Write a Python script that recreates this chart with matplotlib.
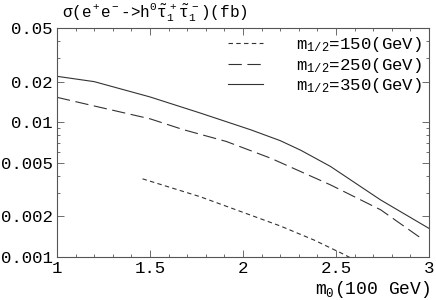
import matplotlib
matplotlib.use("Agg")
import matplotlib.pyplot as plt
from matplotlib.ticker import FixedLocator, NullFormatter

# --- data (x in 100 GeV, sigma in fb) ---
m0_350 = [1.0, 1.2, 1.5, 1.77, 2.04, 2.2, 2.31, 2.47, 2.74, 3.0]
sig_350 = [0.0219, 0.0200, 0.0154, 0.0117, 0.0088, 0.0073, 0.0062, 0.0047, 0.00265, 0.00163]

m0_250 = [1.0, 1.21, 1.5, 1.68, 1.91, 2.15, 2.47, 2.74, 2.97]
sig_250 = [0.0153, 0.0131, 0.0106, 0.0088, 0.0072, 0.0054, 0.00343, 0.00224, 0.00134]

m0_150 = [1.46, 1.77, 2.2, 2.38, 2.54, 2.6]
sig_150 = [0.0038, 0.0028, 0.0017, 0.00134, 0.00105, 0.00095]

x_ticks = [1, 1.5, 2, 2.5, 3]
x_labels = ["1", "1.5", "2", "2.5", "3"]
y_ticks = [0.001, 0.002, 0.005, 0.01, 0.02, 0.05]
y_labels = ["0.001", "0.002", "0.005", "0.01", "0.02", "0.05"]

plt.rcParams["font.family"] = ["Liberation Mono", "DejaVu Sans"]
plt.rcParams["mathtext.fontset"] = "custom"
plt.rcParams["mathtext.rm"] = "Liberation Mono"
plt.rcParams["mathtext.it"] = "Liberation Mono"

fig = plt.figure(figsize=(4.36, 3.0), dpi=100)
ax = fig.add_axes([57 / 436, 43 / 300, 372 / 436, 229 / 300])

lc = "#333333"
ax.plot(m0_150, sig_150, color=lc, lw=0.8, dashes=(4, 3),
        label=r"m$_{1/2}$=150(GeV)")
ax.plot(m0_250, sig_250, color=lc, lw=0.8, dashes=(12, 5),
        label=r"m$_{1/2}$=250(GeV)")
ax.plot(m0_350, sig_350, color=lc, lw=0.8,
        label=r"m$_{1/2}$=350(GeV)")

ax.set_yscale("log")
ax.set_xlim(1, 3)
ax.set_ylim(0.001, 0.05)

ax.xaxis.set_major_locator(FixedLocator(x_ticks))
ax.set_xticklabels(x_labels)
ax.xaxis.set_minor_locator(FixedLocator([1 + 0.1 * i for i in range(21)]))
ax.yaxis.set_major_locator(FixedLocator(y_ticks))
ax.set_yticklabels(y_labels)
ax.yaxis.set_minor_locator(FixedLocator(
    [0.003, 0.004, 0.006, 0.007, 0.008, 0.009, 0.03, 0.04]))
ax.yaxis.set_minor_formatter(NullFormatter())

ax.tick_params(which="both", direction="in", top=True, right=True,
               labelsize=12.5, color="#555555", width=0.6, pad=3)
ax.tick_params(which="major", length=5)
ax.tick_params(which="minor", length=2.5)
for s in ax.spines.values():
    s.set_color("#555555")
    s.set_linewidth(0.8)

leg = ax.legend(loc="upper right", frameon=False, fontsize=12.5,
                handlelength=2.0, handletextpad=1.9, labelspacing=0.1,
                borderaxespad=0.0)

fig.text(62 / 436, 1 - 13 / 300,
         r"$\sigma$(e$^+$e$^-$->h$^0\tilde{\tau}_1^{\ +}\tilde{\tau}_1^{\ -}$)(fb)",
         fontsize=11.5, va="center", ha="left")
fig.text(430 / 436, 1 - 289 / 300, r"m$_0$(100 GeV)",
         fontsize=13, va="center", ha="right")

fig.savefig("out.png", dpi=100)
